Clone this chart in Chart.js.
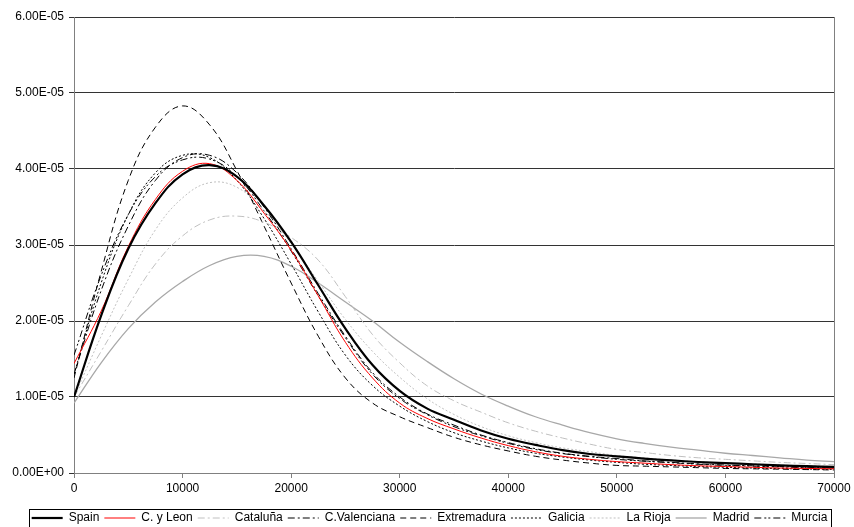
<!DOCTYPE html>
<html>
<head>
<meta charset="utf-8">
<script src="https://cdn.jsdelivr.net/npm/chart.js@4.4.1/dist/chart.umd.min.js"></script>
<style>
  html, body { margin: 0; padding: 0; background: #fff; overflow: hidden; }
  #wrap { width: 854px; height: 527px; overflow: hidden; }
</style>
</head>
<body>
<div id="wrap"><canvas id="c" width="854" height="534"></canvas></div>
<script>
// Income (x) values
const incomes = [0,2500,5000,7500,10000,12500,15000,17500,20000,22500,25000,27500,30000,32500,35000,37500,40000,42500,45000,47500,50000,52500,55000,57500,60000,62500,65000,67500,70000];
// Density values, in units of 1E-05
const spain       = [1.00,2.07,2.95,3.55,3.93,4.05,3.90,3.52,3.04,2.47,1.90,1.42,1.08,0.85,0.70,0.56,0.45,0.37,0.30,0.25,0.22,0.19,0.165,0.145,0.13,0.115,0.10,0.09,0.08];
const cyleon      = [1.44,2.13,2.98,3.60,3.97,4.07,3.85,3.42,2.93,2.33,1.72,1.25,0.92,0.72,0.58,0.46,0.36,0.28,0.22,0.18,0.15,0.13,0.11,0.095,0.085,0.075,0.065,0.06,0.055];
const cataluna    = [1.00,1.60,2.20,2.75,3.12,3.33,3.38,3.30,3.10,2.80,2.32,1.82,1.45,1.15,0.95,0.80,0.66,0.55,0.46,0.38,0.31,0.27,0.23,0.20,0.18,0.16,0.14,0.125,0.11];
const valenciana  = [1.30,2.40,3.25,3.85,4.15,4.18,3.95,3.50,2.95,2.36,1.80,1.32,1.00,0.78,0.63,0.50,0.40,0.32,0.26,0.22,0.19,0.16,0.14,0.12,0.105,0.095,0.085,0.075,0.068];
const extremadura = [1.25,2.65,3.85,4.55,4.83,4.58,3.98,3.25,2.50,1.80,1.25,0.92,0.74,0.60,0.47,0.37,0.29,0.22,0.17,0.13,0.10,0.09,0.08,0.07,0.06,0.055,0.05,0.045,0.04];
const galicia     = [1.30,2.50,3.40,3.95,4.18,4.15,3.85,3.35,2.75,2.12,1.55,1.15,0.88,0.68,0.53,0.42,0.33,0.26,0.21,0.17,0.14,0.115,0.10,0.085,0.075,0.065,0.058,0.052,0.047];
const larioja     = [1.00,1.80,2.55,3.20,3.62,3.82,3.76,3.45,3.02,2.52,2.02,1.60,1.26,0.98,0.77,0.61,0.49,0.40,0.33,0.28,0.23,0.20,0.17,0.15,0.13,0.12,0.105,0.095,0.085];
const madrid      = [0.92,1.45,1.90,2.25,2.52,2.73,2.85,2.85,2.72,2.50,2.25,2.00,1.72,1.47,1.24,1.04,0.88,0.74,0.63,0.53,0.45,0.39,0.34,0.30,0.26,0.23,0.20,0.17,0.15];
const murcia      = [1.55,2.60,3.40,3.90,4.12,4.13,3.90,3.45,2.92,2.33,1.78,1.30,0.98,0.77,0.61,0.49,0.39,0.31,0.255,0.215,0.18,0.155,0.135,0.115,0.10,0.09,0.08,0.07,0.064];
const seriesNames = ["Spain","C. y Leon","Cataluña","C.Valenciana","Extremadura","Galicia","La Rioja","Madrid","Murcia"];
const xTicks = [0,10000,20000,30000,40000,50000,60000,70000];
const yTicks = [0,1e-5,2e-5,3e-5,4e-5,5e-5,6e-5];
const UNIT = 1e-5;

const seriesValues = [spain,cyleon,cataluna,valenciana,extremadura,galicia,larioja,madrid,murcia];
const styles = [
  {color:'#000000', width:2.2, dash:[]},
  {color:'#ff0000', width:1, dash:[]},
  {color:'#c0c0c0', width:1, dash:[7,3,2,3]},
  {color:'#000000', width:1, dash:[7,3,2,3]},
  {color:'#000000', width:1, dash:[6,4]},
  {color:'#000000', width:1, dash:[2,2]},
  {color:'#c0c0c0', width:1, dash:[2,2]},
  {color:'#a8a8a8', width:1.3, dash:[]},
  {color:'#000000', width:1, dash:[7,3,2,2,2,3]}
];

const datasets = seriesNames.map((name, i) => ({
  label: name,
  data: incomes.map((x, j) => ({x: x, y: seriesValues[i][j] * UNIT})),
  borderColor: styles[i].color,
  backgroundColor: styles[i].color,
  borderWidth: styles[i].width,
  borderDash: styles[i].dash,
  pointRadius: 0,
  pointStyle: 'line',
  tension: 0.4,
  fill: false,
  yAxisID: 'y'
}));

function fmtE(v) {
  if (Math.abs(v) < 1e-12) return '0.00E+00';
  const s = v.toExponential(2).split('e');
  const e = parseInt(s[1], 10);
  return s[0] + 'E' + (e < 0 ? '-' : '+') + String(Math.abs(e)).padStart(2, '0');
}

const framePlugin = {
  id: 'frame',
  afterDraw(chart) {
    const ctx = chart.ctx;
    const lg = chart.legend;
    if (lg && lg.legendHitBoxes && lg.legendHitBoxes.length) {
      let l = Infinity, r = -Infinity, t = Infinity, b = -Infinity;
      lg.legendHitBoxes.forEach(h => {
        l = Math.min(l, h.left); r = Math.max(r, h.left + h.width);
        t = Math.min(t, h.top); b = Math.max(b, h.top + h.height);
      });
      const cy = (t + b) / 2;
      ctx.save();
      ctx.strokeStyle = '#000000';
      ctx.lineWidth = 1;
      ctx.strokeRect(Math.round(l - 3) + 0.5, Math.round(cy - 9) + 0.5, Math.round(r - l + 6), 20);
      ctx.restore();
    }
  }
};

Chart.defaults.font.family = "'Liberation Sans', Arial, sans-serif";
Chart.defaults.font.size = 12;
Chart.defaults.color = '#000000';

new Chart(document.getElementById('c'), {
  type: 'line',
  data: { datasets },
  plugins: [framePlugin],
  options: {
    responsive: false,
    animation: false,
    events: [],
    layout: { padding: { left: 5, right: 0, top: 17, bottom: 0 } },
    scales: {
      x: {
        type: 'linear',
        min: 0, max: 70000,
        afterBuildTicks: s => { s.ticks = xTicks.map(v => ({value: v})); },
        afterFit: s => { s.height = 34; },
        ticks: { callback: v => String(v), padding: 3, maxRotation: 0, autoSkip: false },
        grid: { drawOnChartArea: false, drawTicks: true, tickLength: 5, color: '#808080' },
        border: { color: '#808080', width: 1 }
      },
      y: {
        min: 0, max: 6e-5,
        afterBuildTicks: s => { s.ticks = yTicks.map(v => ({value: v})); },
        afterFit: s => { s.width = 69; },
        ticks: { callback: v => fmtE(v), padding: 5 },
        grid: { color: '#333333', lineWidth: 1, drawTicks: true, tickLength: 5 },
        border: { color: '#808080', width: 1 }
      },
      yr: {
        type: 'linear',
        position: 'right',
        min: 0, max: 6e-5,
        afterFit: s => { s.width = 20; },
        ticks: { display: false },
        grid: { display: false, drawTicks: false },
        border: { display: true, color: '#808080', width: 1 }
      }
    },
    plugins: {
      legend: {
        position: 'bottom',
        labels: {
          usePointStyle: true,
          pointStyle: 'line',
          pointStyleWidth: 31,
          boxHeight: 12,
          padding: 5,
          color: '#000000',
          generateLabels(chart) {
            const items = Chart.defaults.plugins.legend.labels.generateLabels(chart);
            items.forEach(it => {
              const ds = chart.data.datasets[it.datasetIndex];
              it.lineDash = ds.borderDash;
              it.lineWidth = ds.borderWidth;
              it.strokeStyle = ds.borderColor;
              it.fillStyle = ds.borderColor;
              it.pointStyle = 'line';
            });
            return items;
          }
        }
      },
      tooltip: { enabled: false },
      title: { display: false }
    }
  }
});
</script>
</body>
</html>
